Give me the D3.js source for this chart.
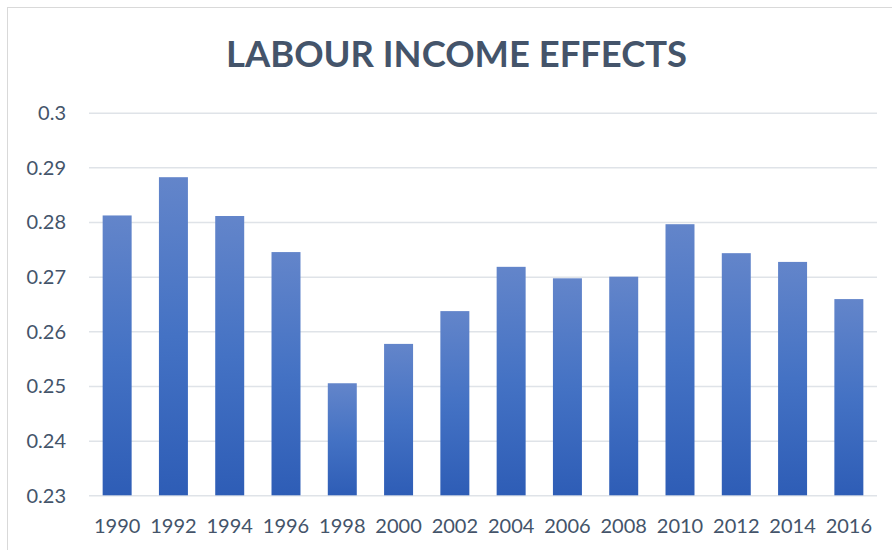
<!DOCTYPE html>
<html>
<head>
<meta charset="utf-8">
<script src="https://cdn.jsdelivr.net/npm/d3@7"></script>
<style>
  html, body { margin: 0; padding: 0; background: #fff; }
  svg { display: block; }
  text { font-family: Lato, "Open Sans", sans-serif; fill: #44546A; }
</style>
</head>
<body>
<svg id="chart" width="892" height="550"></svg>
<script>
// Labour income effects by survey year
const years = ["1990", "1992", "1994", "1996", "1998", "2000", "2002",
               "2004", "2006", "2008", "2010", "2012", "2014", "2016"];
const effects = [0.2812, 0.2882, 0.2811, 0.2745, 0.2505, 0.2577, 0.2637,
                 0.2718, 0.2697, 0.2700, 0.2796, 0.2743, 0.2727, 0.2659];
const yTicks = [0.23, 0.24, 0.25, 0.26, 0.27, 0.28, 0.29, 0.30];
const chartTitle = "LABOUR INCOME EFFECTS";

const svg = d3.select("#chart");
const W = 892, H = 550;
const plot = { left: 89, right: 877, top: 112.7, bottom: 495.3 };

// chart frame
svg.append("rect")
  .attr("x", 7.5).attr("y", 7.5)
  .attr("width", W + 20).attr("height", H + 20)
  .attr("fill", "#fff").attr("stroke", "#d9d9d9").attr("stroke-width", 1);

// bar gradient
const defs = svg.append("defs");
const grad = defs.append("linearGradient")
  .attr("id", "barFill").attr("x1", 0).attr("y1", 0).attr("x2", 0).attr("y2", 1);
grad.append("stop").attr("offset", "0%").attr("stop-color", "#6385ca");
grad.append("stop").attr("offset", "50%").attr("stop-color", "#4472c4");
grad.append("stop").attr("offset", "100%").attr("stop-color", "#2e5db6");

const x = d3.scaleBand().domain(years).range([plot.left, plot.right])
  .paddingInner(0.485).paddingOuter(0.2425);
const y = d3.scaleLinear().domain([0.23, 0.30]).range([plot.bottom, plot.top]);

// gridlines + y labels
const yAxis = d3.axisLeft(y).tickValues(yTicks)
  .tickSize(-(plot.right - plot.left)).tickPadding(23)
  .tickFormat(d => d3.format("")(+d.toFixed(2)));
const gy = svg.append("g").attr("transform", `translate(${plot.left},0)`).call(yAxis);
gy.select(".domain").remove();
gy.selectAll(".tick line").attr("stroke", "#dfe3e8").attr("stroke-width", 1.5);
gy.selectAll(".tick text")
  .attr("font-size", 20).attr("fill", "#44546A")
  .attr("dy", "0.34em").attr("x", -23);

// bars
svg.append("g").selectAll("rect")
  .data(years.map((yr, i) => ({ yr, v: effects[i] })))
  .join("rect")
  .attr("x", d => x(d.yr))
  .attr("width", x.bandwidth())
  .attr("y", d => y(d.v))
  .attr("height", d => y(0.23) - y(d.v))
  .attr("fill", "url(#barFill)");

// x labels
const xAxis = d3.axisBottom(x).tickSize(0).tickPadding(24);
const gx = svg.append("g").attr("transform", `translate(0,${plot.bottom})`).call(xAxis);
gx.select(".domain").remove();
gx.selectAll(".tick text").attr("font-size", 20).attr("fill", "#44546A");

// title
svg.append("text")
  .attr("x", 456.5).attr("y", 67)
  .attr("text-anchor", "middle")
  .attr("font-size", 36.4).attr("font-weight", "bold")
  .attr("fill", "#44546A")
  .text(chartTitle);
</script>
</body>
</html>
